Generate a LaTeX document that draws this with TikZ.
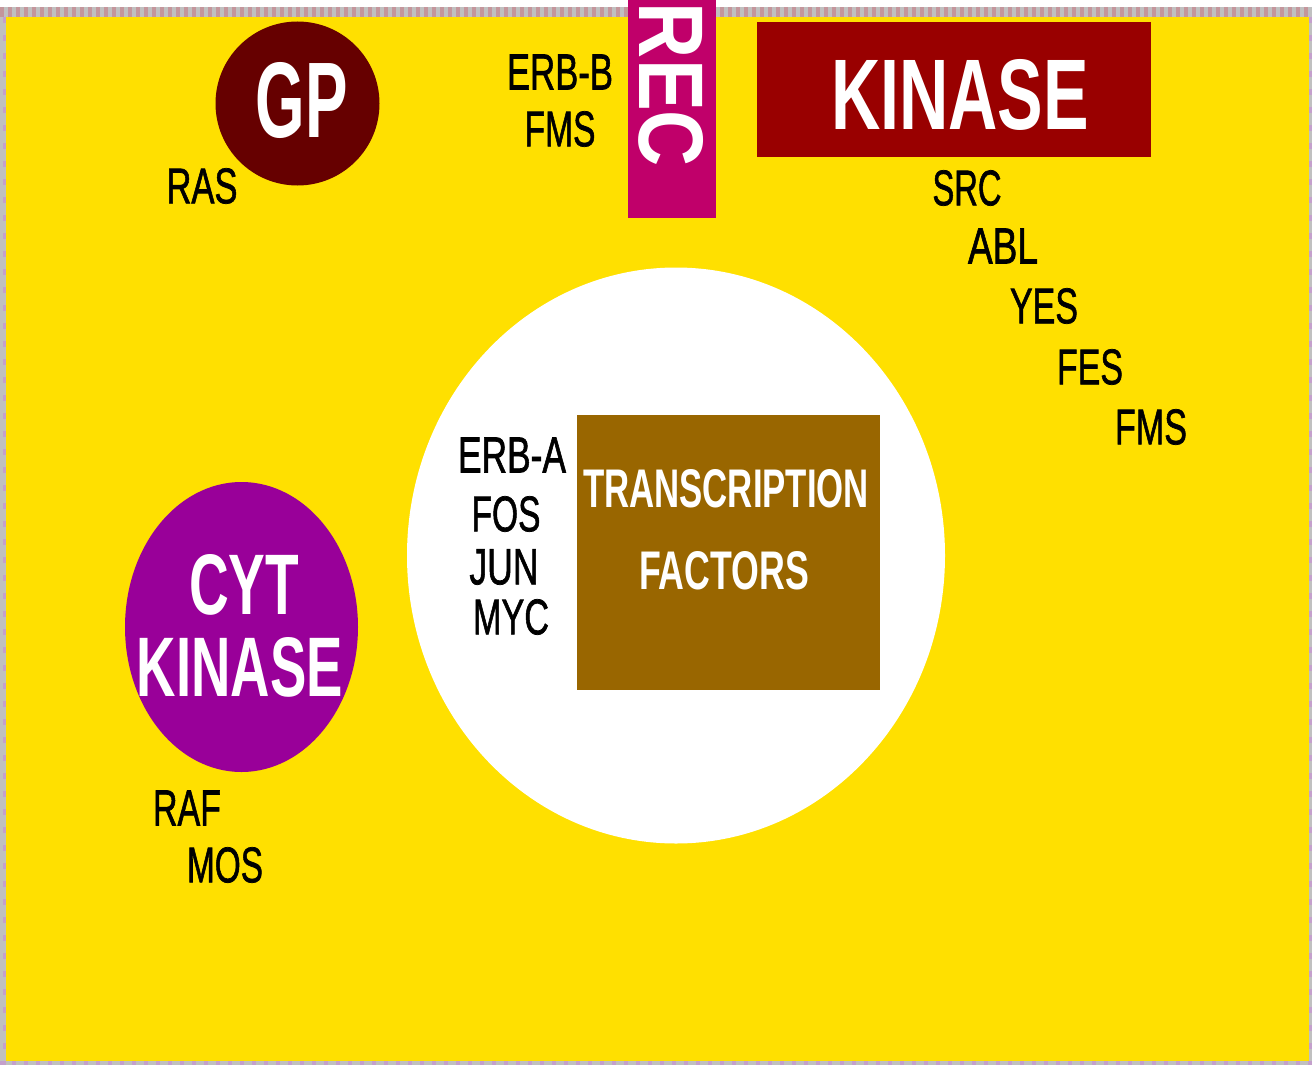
\documentclass[tikz,border=0pt]{standalone}
\usepackage{fontspec}
\setmainfont{Liberation Sans}
\newfontfamily\semifont{Liberation Sans}[FakeBold=1.5]
\usepackage{graphicx}
\usetikzlibrary{shapes.geometric}

\definecolor{bgyellow}{RGB}{255,224,0}
\definecolor{gpred}{RGB}{102,0,0}
\definecolor{kinred}{RGB}{153,0,0}
\definecolor{recpink}{RGB}{192,0,106}
\definecolor{cytpurple}{RGB}{153,0,153}
\definecolor{tfbrown}{RGB}{153,102,0}
\definecolor{framegray}{RGB}{192,192,192}
\definecolor{framepink}{RGB}{196,150,156}
\definecolor{framelilac}{RGB}{196,160,204}

% text squeezed to a given ink width and cap height (in pt)
\newcommand{\fitto}[3]{\resizebox{#1pt}{#2pt}{\bfseries #3}}
\newcommand{\fitlbl}[3]{\resizebox{#1pt}{#2pt}{\semifont #3}}

\tikzset{
  lbl/.style={inner sep=0pt, text=black},
  hdr/.style={inner sep=0pt, text=white},
  blob/.style={inner sep=0pt, draw=none},
}

\begin{document}
\begin{tikzpicture}[x=1pt,y=-1pt]
\useasboundingbox (0,0) rectangle (1312,1065);
\fill[white] (0,0) rectangle (1312,1065);

% checkered frame
\fill[framegray] (0,7) rectangle (1312,1065);
\draw[framepink, line width=10pt, dash pattern=on 4pt off 4pt] (0,12) -- (1312,12);
\draw[framelilac, line width=3pt, dash pattern=on 6pt off 12pt] (4.5,17) -- (4.5,1065);
\draw[framelilac, line width=3pt, dash pattern=on 6pt off 12pt] (1310.5,17) -- (1310.5,1065);
\draw[framelilac, line width=4pt, dash pattern=on 4pt off 8pt] (0,1063) -- (1312,1063);
\fill[bgyellow] (6,17) rectangle (1309,1061);

% shapes
\node[blob, circle, fill=gpred, minimum size=164pt] (gp) at (297.5,103.5) {};
\node[blob, rectangle, fill=recpink, minimum width=88pt, minimum height=218pt] (rec) at (672,109) {};
\node[blob, rectangle, fill=kinred, minimum width=394pt, minimum height=135pt] (kin) at (954,89.5) {};
\node[blob, ellipse, fill=white, minimum width=538pt, minimum height=576pt] (nuc) at (676,555.5) {};
\node[blob, rectangle, fill=tfbrown, minimum width=303pt, minimum height=275pt] (tf) at (728.5,552.5) {};
\node[blob, ellipse, fill=cytpurple, minimum width=233pt, minimum height=290pt] (cyt) at (241.5,627) {};

% headings
\node[hdr] (gpT) at (302,100) {\fitto{92}{75}{GP}};
\node[hdr, rotate=-90] (recT) at (671.5,85) {\fitto{164}{64}{REC}};
\node[hdr] (kinT) at (960,95) {\fitto{258}{70}{KINASE}};
\node[hdr] (tfA) at (726,489) {\fitto{286}{38}{TRANSCRIPTION}};
\node[hdr] (tfB) at (724,571) {\fitto{170}{38}{FACTORS}};
\node[hdr] (cytA) at (244,585) {\fitto{110}{60}{CYT}};
\node[hdr] (cytB) at (240,667.5) {\fitto{206}{59}{KINASE}};

% oncogene labels
\node[lbl] (ras) at (202,186) {\fitlbl{71}{35}{RAS}};
\node[lbl] (erbb) at (560,72) {\fitlbl{106}{35}{ERB-B}};
\node[lbl] (fmsA) at (560,129) {\fitlbl{71}{35}{FMS}};
\node[lbl] (src) at (967,188) {\fitlbl{69}{35}{SRC}};
\node[lbl] (abl) at (1003,246) {\fitlbl{70}{35}{ABL}};
\node[lbl] (yes) at (1044,306) {\fitlbl{68}{35}{YES}};
\node[lbl] (fes) at (1090,367) {\fitlbl{66}{35}{FES}};
\node[lbl] (fmsB) at (1151,427) {\fitlbl{72}{35}{FMS}};
\node[lbl] (erba) at (512,455) {\fitlbl{108}{35}{ERB-A}};
\node[lbl] (fos) at (506,514) {\fitlbl{69}{35}{FOS}};
\node[lbl] (jun) at (504,567) {\fitlbl{69}{35}{JUN}};
\node[lbl] (myc) at (511,617) {\fitlbl{76}{35}{MYC}};
\node[lbl] (raf) at (187,808) {\fitlbl{68}{35}{RAF}};
\node[lbl] (mos) at (225,865) {\fitlbl{76}{35}{MOS}};
\end{tikzpicture}
\end{document}
